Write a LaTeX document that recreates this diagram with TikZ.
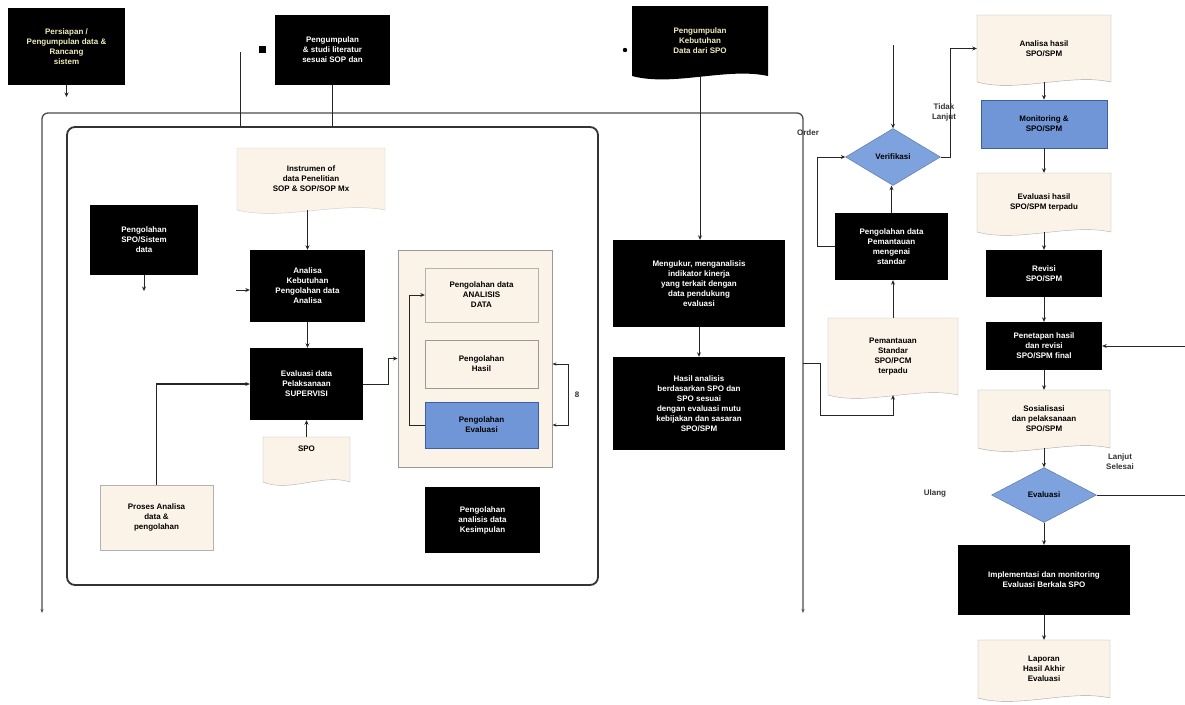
\documentclass[tikz,border=0pt]{standalone}
\usepackage{fontspec}
\setmainfont{Liberation Sans}
\usetikzlibrary{shapes.geometric,arrows.meta,calc}
\definecolor{cream}{RGB}{251,243,232}
\definecolor{blueb}{RGB}{112,150,215}
\definecolor{bluedk}{RGB}{60,95,160}
\definecolor{diacol}{RGB}{125,162,222}
\definecolor{yel}{RGB}{240,236,190}
\newcommand\dfnt{\fontsize{8}{10}\selectfont\bfseries}
% name, x1, y1, x2, y2, shape style, node style, text
\newcommand\docnode[8]{%
  \path[#6] (#2,#3) -- (#4,#3) -- (#4,#5) .. controls ({#2+0.7*(#4-#2)},{#5-9}) and ({#2+0.3*(#4-#2)},{#5+11}) .. (#2,#5) -- cycle;
  \node[docn,#7,minimum width={(#4-#2)*1pt},minimum height={(#5-#3)*1pt}] (#1) at ({(#2+#4)/2},{(#3+#5)/2}) {#8};}
\begin{document}
\begin{tikzpicture}[x=1pt,y=-1pt,
  sz/.style 2 args={minimum width=#1pt,minimum height=#2pt},
  blk/.style={fill=black,text=white,align=center,font=\dfnt,inner sep=2pt},
  crm/.style={fill=cream,draw=gray!60,align=center,font=\dfnt,inner sep=2pt},
  blu/.style={fill=blueb,draw=bluedk,line width=0.8pt,align=center,font=\dfnt,inner sep=2pt},
  dia/.style={diamond,fill=diacol,draw=diacol!70!black,align=center,font=\dfnt,inner sep=1pt},
  docn/.style={align=center,font=\dfnt,inner sep=2pt},
  ln/.style={draw=black!85,line width=0.9pt},
  arr/.style={ln,-{Stealth[length=4.5pt,width=4pt]}},
  frame/.style={draw=black!70,line width=1.3pt},
  lbl/.style={font=\dfnt,align=center,text=black!80}]
\fill[white] (0,0) rectangle (1185,704);
\useasboundingbox (0,0) rectangle (1185,704);

% outer frame and inner box
\coordinate (FL) at (42,613);
\coordinate (FR) at (803,613);
\draw[frame,rounded corners=6pt,{Stealth[length=4pt]}-{Stealth[length=4pt]}] (FL) -- (42,113) -- (803,113) -- (FR);
\node[draw=black!80,line width=1.8pt,rounded corners=8pt,sz={531}{458}] (IN) at (332.5,356) {};

% top row
\node[blk,sz={117}{77},text=yel] (A) at (66.5,46.5) {Persiapan /\\Pengumpulan data \&\\Rancang\\sistem};
\node[blk,sz={115}{70}] (B) at (332.5,50) {Pengumpulan\\\& studi literatur\\sesuai SOP dan};
\docnode{C}{632}{6}{768}{76}{fill=black}{text=yel}{Pengumpulan\\Kebutuhan\\Data dari SPO}

% inside inner box
\docnode{D}{237}{148}{385}{210}{fill=cream,draw=gray!40}{}{Instrumen of\\data Penelitian\\SOP \& SOP/SOP Mx}
\node[blk,sz={108}{70}] (E) at (144,240) {Pengolahan\\SPO/Sistem\\data};
\node[blk,sz={115}{72}] (F) at (307.5,286) {Analisa\\Kebutuhan\\Pengolahan data\\Analisa};
\node[blk,sz={113}{72}] (G) at (306.5,384) {Evaluasi data\\Pelaksanaan\\SUPERVISI};
\docnode{H}{263}{437}{350}{482}{fill=cream,draw=gray!60}{}{SPO\\[12pt]}
\node[crm,sz={113}{65}] (I) at (156.5,517.5) {Proses Analisa\\data \&\\pengolahan};
\node[fill=cream,draw=gray!80,line width=0.9pt,sz={154}{217}] (J) at (475,358.5) {};
\node[crm,sz={113}{54}] (K1) at (481.5,295) {Pengolahan data\\ANALISIS\\DATA};
\node[crm,draw=gray!80,sz={113}{48}] (K2) at (481.5,364) {Pengolahan\\Hasil};
\node[blu,sz={113}{46}] (K3) at (481.5,425) {Pengolahan\\Evaluasi};
\node[blk,sz={115}{66}] (L) at (482.5,520) {Pengolahan\\analisis data\\Kesimpulan};

% middle column
\node[blk,sz={172}{87}] (M1) at (699,283.5) {Mengukur, menganalisis\\indikator kinerja\\yang terkait dengan\\data pendukung\\evaluasi};
\node[blk,sz={172}{93}] (M2) at (699,403.5) {Hasil analisis\\berdasarkan SPO dan\\SPO sesuai\\dengan evaluasi mutu\\kebijakan dan sasaran\\SPO/SPM};

% right part
\node[dia,minimum width=95pt,minimum height=57pt] (D1) at (893,157) {Verifikasi};
\node[blk,sz={113}{67}] (N1) at (891.5,246.5) {Pengolahan data\\Pemantauan\\mengenai\\standar};
\docnode{N2}{828}{318}{958}{395}{fill=cream,draw=gray!60}{}{Pemantauan\\Standar\\SPO/PCM\\terpadu}
\docnode{R1}{977}{15}{1111}{82}{fill=cream,draw=gray!70}{}{Analisa hasil\\SPO/SPM}
\node[blu,sz={126}{48}] (R2) at (1044,124) {Monitoring \&\\SPO/SPM};
\docnode{R3}{977}{173}{1111}{232}{fill=cream,draw=gray!60}{}{Evaluasi hasil\\SPO/SPM terpadu}
\node[blk,sz={116}{47}] (R4) at (1044,273.5) {Revisi\\SPO/SPM};
\node[blk,sz={116}{48}] (R5) at (1044,346) {Penetapan hasil\\dan revisi\\SPO/SPM final};
\docnode{R6}{978}{390}{1110}{448}{fill=cream,draw=gray!70}{}{Sosialisasi\\dan pelaksanaan\\SPO/SPM}
\node[dia,minimum width=105pt,minimum height=55pt] (D2) at (1044,495) {Evaluasi};
\node[blk,sz={172}{70}] (R7) at (1044,580) {Implementasi dan monitoring\\Evaluasi Berkala SPO};
\docnode{R8}{978}{640}{1110}{698}{fill=cream,draw=gray!70}{}{Laporan\\Hasil Akhir\\Evaluasi}

% connectors
\coordinate (a1) at (66.5,97);
\draw[arr] (A.south) -- (a1);
\coordinate (b0) at (240,52);
\draw[ln] (b0) -- (b0|-IN.north);
\fill (259,46) rectangle (266,53);
\draw[ln] (B.south) -- (B.south|-IN.north);
\fill (625,50) circle (2.2pt);
\draw[arr] (C.south) -- (C.south|-M1.north);
\draw[arr] (F.north|-D.south) -- (F.north);
\coordinate (e1) at (144,291);
\draw[arr] (E.south) -- (e1);
\coordinate (f0) at (236,290);
\draw[arr] (f0) -- (f0-|F.west);
\draw[arr] (F.south) -- (F.south|-G.north);
\draw[arr] (G.south|-H.north) -- (G.south);
\draw[arr,line width=1.5pt] (I.north) |- (G.west);
\draw[arr] (G.east) -- ++(25,0) |- (J.west);
\draw[arr] (K3.west) -- ++(-15,0) |- (K1.west);
\draw[ln,{Stealth[length=4pt]}-{Stealth[length=4pt]}] (J.east|-K2) -- ++(16,0) |- (J.east|-K3);
\node[lbl] (n8) at (577,395) {8};
\draw[arr] (M1.south) -- (M1.south|-M2.north);

\coordinate (d0) at (893,45);
\draw[arr] (d0) -- (D1.north);
\draw[arr] (D1.east) -- ++(10,0) |- (R1.west);
\node[lbl] (ly) at (944,112) {Tidak\\Lanjut};
\draw[arr] (N2.north) -- (N2.north|-N1.south);
\draw[arr] (N1.north) -- (N1.north|-D1.south);
\draw[arr] (N1.west) -- ++(-17,0) |- (D1.west);
\coordinate (fr1) at (803,363);
\draw[arr] (fr1) -- ++(17,0) |- ($(N2.south)+(0,20)$) -- (N2.south);
\node[lbl] (lo) at (808,133) {Order};

\draw[arr] (R1.south) -- (R2.north);
\draw[arr] (R2.south) -- (R3.north);
\draw[arr] (R3.south) -- (R4.north);
\draw[arr] (R4.south) -- (R5.north);
\draw[arr] (R5.south) -- (R6.north);
\draw[arr] (R6.south) -- (D2.north);
\draw[arr] (D2.south) -- (R7.north);
\draw[arr] (R7.south) -- (R8.north);
\coordinate (r5in) at (1185,346);
\draw[arr] (r5in) -- (R5.east);
\coordinate (d2out) at (1185,495);
\draw[ln] (D2.east) -- (d2out);
\node[lbl] (lu) at (935,493) {Ulang};
\node[lbl] (ls) at (1120,462) {Lanjut\\Selesai};
\end{tikzpicture}
\end{document}
